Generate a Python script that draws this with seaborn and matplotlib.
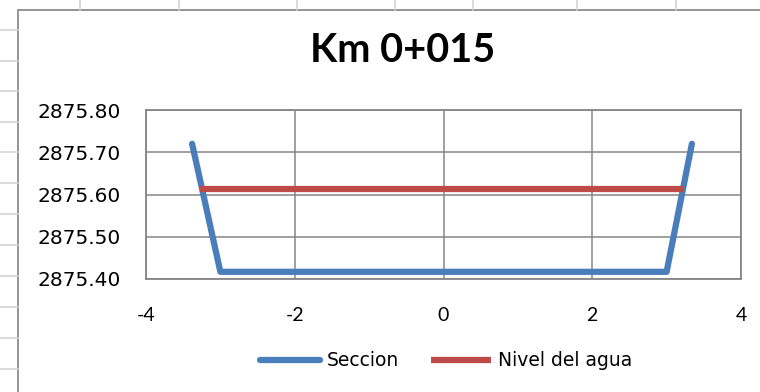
import numpy as np
import pandas as pd
import seaborn as sns
import matplotlib.pyplot as plt
from matplotlib.patches import Rectangle
from matplotlib.lines import Line2D
from matplotlib.ticker import FixedLocator, FormatStrFormatter

# Seccion transversal Km 0+015
sec_x = [-3.38, -3.0, 3.0, 3.34]
sec_y = [2875.72, 2875.417, 2875.417, 2875.72]
# nivel del agua
agua_x = [-3.27, 3.24]
agua_y = [2875.612, 2875.612]

titulo = "Km 0+015"
y_ticks = [2875.40, 2875.50, 2875.60, 2875.70, 2875.80]
x_ticks = [-4, -2, 0, 2, 4]

sns.set_theme(style="white")
plt.rcParams['font.family'] = ['Lato', 'DejaVu Sans']
plt.rcParams['axes.unicode_minus'] = False
plt.rcParams['text.color'] = 'black'

W, H = 760, 392
fig = plt.figure(figsize=(W / 100, H / 100), dpi=100)

# celdas de la hoja de calculo detras del grafico
cell = "#d4d4d4"
for yy in [30, 61, 91, 122, 152, 183, 214, 245, 276, 307, 338, 369]:
    fig.add_artist(Line2D([0, 18 / W], [1 - yy / H, 1 - yy / H], color=cell, lw=1.2))
for xx in [80, 179, 297, 395, 473, 577, 676]:
    fig.add_artist(Line2D([xx / W, xx / W], [1 - 10 / H, 1], color=cell, lw=1.2))
# marco del grafico
fig.add_artist(Rectangle((18 / W, -0.1), 1.2, 1 - 10 / H + 0.1, transform=fig.transFigure,
                         facecolor="white", edgecolor="#8c8c8c", lw=1.3, zorder=0))

ax = fig.add_axes([146 / W, 1 - 279 / H, (741 - 146) / W, (279 - 110) / H])
ax.set_facecolor("none")

sns.lineplot(x=sec_x, y=sec_y, sort=False, ax=ax, color="#4a7ebb", lw=4.5,
             label="Seccion", solid_capstyle="round", solid_joinstyle="round")
sns.lineplot(x=agua_x, y=agua_y, sort=False, ax=ax, color="#be4b48", lw=4.5,
             label="Nivel del agua", solid_capstyle="butt")

ax.set_xlim(-4, 4)
ax.set_ylim(2875.40, 2875.80)
ax.xaxis.set_major_locator(FixedLocator(x_ticks))
ax.yaxis.set_major_locator(FixedLocator(y_ticks))
ax.yaxis.set_major_formatter(FormatStrFormatter('%.2f'))
ax.grid(True, color="#868686", lw=1.1)
ax.set_axisbelow(True)
for s in ax.spines.values():
    s.set_color("#868686")
    s.set_linewidth(1.3)
ax.tick_params(axis="both", length=0, colors="black")
ax.tick_params(axis="y", pad=18)
ax.tick_params(axis="x", pad=20)
for lab in ax.get_yticklabels():
    lab.set_fontfamily("DejaVu Sans")
    lab.set_fontsize(14.5)
for lab in ax.get_xticklabels():
    lab.set_fontsize(14)
ax.set_xlabel("")
ax.set_ylabel("")

fig.text(403 / W, 1 - 51 / H, titulo, ha="center", va="center",
         fontsize=28.5, fontweight="bold", color="black")

ax.legend_.remove()
handles, labels = ax.get_legend_handles_labels()
fig.legend(handles, labels, loc="center", bbox_to_anchor=(446 / W, 1 - 361 / H),
           ncol=2, frameon=False, prop={"family": "DejaVu Sans", "size": 13.5},
           handlelength=3.2, handletextpad=0.35, columnspacing=1.7,
           labelcolor="black")

fig.savefig("out.png", dpi=100)
